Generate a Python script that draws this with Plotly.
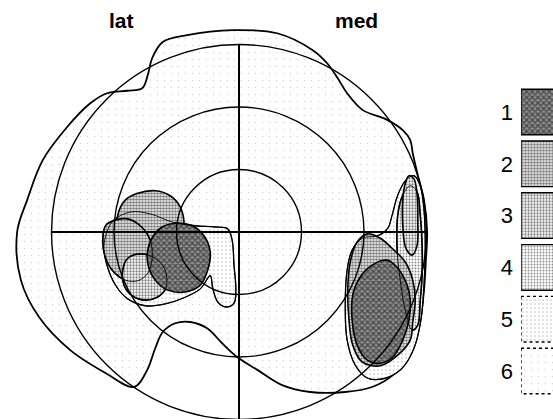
import plotly.graph_objects as go

# ---------------- data (visual-field degrees; +x = medial, +y = superior) ----------------
ring_ecc = [10, 20, 30]            # graticule eccentricities
levels = ["1", "2", "3", "4", "5", "6"]
side_labels = ["lat", "med"]

# level-6 (outermost) isopter
iso6_x = [-35.5, -33.9, -31.4, -27.5, -23.8, -21.1, -17.9, -15.5, -14.6, -13.9, -12.2, -8.3, -1.0, 6.1,
          11.8, 14.1, 15.8, 17.3, 19.8, 23.4, 26.2, 27.4, 27.8, 28.6, 29.6, 30.1, 29.9, 29.6, 28.8, 27.4,
          24.6, 21.3, 17.0, 11.4, 6.9, 3.0, -0.3, -2.7, -5.1, -7.8, -10.2, -12.2, -13.4, -14.7, -16.8,
          -21.3, -27.0, -32.0, -34.9, -35.5]
iso6_y = [0.0, 5.1, 11.5, 16.8, 20.6, 22.2, 22.6, 23.0, 25.1, 27.8, 30.4, 31.5, 32.3, 31.8,
          29.1, 27.0, 24.6, 22.2, 19.5, 18.1, 16.3, 14.7, 12.6, 9.1, 5.1, 0.0, -4.5, -9.3, -15.2, -19.2,
          -22.9, -24.8, -25.6, -25.6, -24.5, -22.1, -20.0, -17.8, -15.4, -14.4, -14.6, -16.0, -18.6, -22.1, -24.8,
          -22.6, -18.9, -13.6, -7.7, 0.0]

# lateral cluster
lat5_x = [-20.3, -17.4, -14.2, -10.7, -7.0, -3.8, -1.8, -1.1, -0.8, -0.5, -0.8, -2.1, -3.4, -4.2, -4.6,
          -6.2, -9.0, -11.8, -15.0, -17.8, -19.7, -21.1, -21.6, -20.3]
lat5_y = [1.6, 3.2, 2.9, 1.6, 1.0, 0.8, 0.5, -1.3, -5.3, -9.3, -11.4, -12.0, -11.2, -9.0, -7.0,
          -9.1, -10.6, -11.5, -11.8, -10.7, -8.6, -5.4, -2.1, 1.6]
lat2a_x = [-19.4, -18.2, -16.2, -13.4, -11.0, -9.4, -8.8, -9.1, -10.2, -12.6, -15.8, -18.2, -19.4, -19.4]
lat2a_y = [2.7, 5.1, 6.2, 6.6, 5.8, 4.0, 1.6, -1.0, -2.9, -4.2, -4.2, -2.9, -0.5, 2.7]
lat2b_x = [-21.8, -21.3, -19.8, -17.8, -15.8, -14.2, -13.9, -14.6, -16.2, -18.2, -20.3, -21.4, -21.8]
lat2b_y = [-1.3, 1.1, 1.9, 2.1, 1.0, -1.3, -4.2, -6.6, -7.8, -7.7, -6.1, -4.0, -1.3]
lat3_x = [-18.6, -17.8, -15.8, -13.4, -11.8, -11.7, -13.0, -15.0, -17.1, -18.4, -18.6]
lat3_y = [-6.1, -4.2, -3.5, -4.2, -6.1, -9.0, -10.4, -10.9, -10.2, -8.5, -6.1]
lat1_x = [-12.6, -10.2, -7.5, -5.6, -4.6, -5.0, -6.2, -8.6, -11.4, -13.4, -14.6, -14.4, -12.6]
lat1_y = [0.6, 1.4, 1.0, -0.6, -3.2, -6.1, -8.5, -9.6, -9.3, -7.7, -5.0, -2.1, 0.6]

# medial cluster
med5_x = [24.5, 25.4, 26.7, 28.0, 29.0, 29.6, 29.8, 29.6, 29.1, 28.0, 26.1, 23.4, 20.6, 18.6, 17.3,
          17.0, 17.3, 18.1, 19.7, 22.2, 23.8, 24.5]
med5_y = [2.7, 5.9, 8.3, 9.0, 7.4, 3.5, -2.1, -8.5, -14.1, -18.6, -21.8, -23.4, -23.4, -21.3, -17.3,
          -11.7, -6.1, -2.9, -1.0, -0.6, 0.6, 2.7]
med4_x = [25.4, 26.2, 27.4, 28.5, 29.0, 29.3, 29.3, 29.0, 28.6, 27.7, 26.6, 25.8, 25.3, 25.4]
med4_y = [2.7, 5.9, 7.4, 6.4, 2.7, -2.1, -6.9, -10.9, -14.9, -15.7, -12.5, -7.7, -2.9, 2.7]
med3_x = [26.2, 26.6, 27.2, 28.0, 28.5, 28.6, 28.5, 27.7, 26.7, 26.2, 26.2]
med3_y = [5.1, 7.8, 9.0, 8.5, 5.9, 1.9, -2.1, -3.7, -2.6, 1.1, 5.1]
med2_x = [20.6, 22.6, 24.5, 26.6, 27.8, 28.2, 27.8, 27.4, 25.4, 22.6, 19.7, 18.2, 17.6, 17.4, 17.8, 18.9, 20.6]
med2_y = [-0.3, -1.0, -2.6, -4.8, -7.7, -10.9, -14.4, -17.3, -19.7, -21.4, -20.8, -18.1, -14.1, -9.3, -4.8, -1.6, -0.3]
med1_x = [23.7, 25.4, 26.9, 27.4, 27.2, 26.2, 24.6, 22.6, 20.5, 18.9, 18.1, 18.2, 19.4, 21.3, 23.7]
med1_y = [-4.5, -5.8, -8.5, -10.9, -14.1, -17.3, -20.0, -21.0, -20.5, -18.1, -14.1, -10.1, -7.2, -5.3, -4.5]

# ---------------- styling ----------------
W, H = 553, 419
PX = 6.25                 # pixels per degree
CX, CY = 239, 232         # fixation point in pixels
x_rng = [-CX / PX, (W - CX) / PX]
y_rng = [-(H - CY) / PX, CY / PX]

pat = {
    "1": dict(shape="x", size=4, solidity=0.55, fgcolor="#000000", bgcolor="#8f8f8f"),
    "2": dict(shape=".", size=3, solidity=0.65, fgcolor="#000000", bgcolor="#ffffff"),
    "3": dict(shape=".", size=3, solidity=0.45, fgcolor="#000000", bgcolor="#ffffff"),
    "4": dict(shape=".", size=3, solidity=0.32, fgcolor="#111111", bgcolor="#ffffff"),
    "5": dict(shape=".", size=4, solidity=0.12, fgcolor="#666666", bgcolor="#ffffff"),
    "6": dict(shape=".", size=7, solidity=0.04, fgcolor="#aaaaaa", bgcolor="#ffffff"),
}

fig = go.Figure()


def blob(xs, ys, lvl, lw=1.6, dash="solid"):
    fig.add_trace(go.Scatter(
        x=xs, y=ys, mode="lines", fill="toself", line_shape="spline",
        line=dict(color="#000000", width=lw, dash=dash, smoothing=1.0),
        fillcolor="rgba(255,255,255,0)", fillpattern=pat[lvl],
        hoverinfo="skip", showlegend=False))


def outline(xs, ys, lw=1.0):
    fig.add_trace(go.Scatter(
        x=xs, y=ys, mode="lines", line_shape="spline",
        line=dict(color="#000000", width=lw, smoothing=1.0),
        hoverinfo="skip", showlegend=False))


blob(iso6_x, iso6_y, "6", lw=1.8)
blob(lat5_x, lat5_y, "5", lw=1.3)
blob(med5_x, med5_y, "5", lw=1.3)
blob(lat2a_x, lat2a_y, "2")
blob(lat2b_x, lat2b_y, "2")
blob(lat3_x, lat3_y, "3")
blob(lat1_x, lat1_y, "1")
blob(med4_x, med4_y, "4")
blob(med3_x, med3_y, "3")
blob(med2_x, med2_y, "2")
blob(med1_x, med1_y, "1")
for xs, ys in [(lat2b_x, lat2b_y), (lat3_x, lat3_y), (lat5_x, lat5_y), (med4_x, med4_y), (med5_x, med5_y)]:
    outline(xs, ys, lw=0.9)

# graticule (rings + meridians) drawn through the data axes
shapes = []
for r in ring_ecc:
    shapes.append(dict(type="circle", xref="x", yref="y", x0=-r, x1=r, y0=-r, y1=r,
                       line=dict(color="#000000", width=1.4), layer="above"))
shapes.append(dict(type="line", xref="x", yref="y", x0=-ring_ecc[-1], x1=ring_ecc[-1], y0=0, y1=0,
                   line=dict(color="#000000", width=2.0), layer="above"))
shapes.append(dict(type="line", xref="x", yref="y", x0=0, x1=0, y0=ring_ecc[-1], y1=y_rng[0] - 1,
                   line=dict(color="#000000", width=2.0), layer="above"))

# legend key boxes on their own axes
for i, lv in enumerate(levels):
    yc = i + 1
    fig.add_trace(go.Scatter(
        x=[0, 2, 2, 0, 0], y=[yc - 0.44, yc - 0.44, yc + 0.44, yc + 0.44, yc - 0.44],
        xaxis="x2", yaxis="y2", mode="lines", fill="toself",
        line=dict(color="#000000", width=1.4, dash="dot" if lv in ("5", "6") else "solid"),
        fillcolor="rgba(255,255,255,0)", fillpattern=pat[lv],
        hoverinfo="skip", showlegend=False))

lab_y = y_rng[1] - 20 / PX
annotations = [
    dict(x=-18.8, y=lab_y, xref="x", yref="y", text="<b>%s</b>" % side_labels[0], showarrow=False,
         font=dict(family="Liberation Sans, Arial", size=21, color="#000000")),
    dict(x=18.8, y=lab_y, xref="x", yref="y", text="<b>%s</b>" % side_labels[1], showarrow=False,
         font=dict(family="Liberation Sans, Arial", size=21, color="#000000")),
]

fig.update_layout(
    width=W, height=H, autosize=False,
    margin=dict(l=0, r=0, t=0, b=0),
    paper_bgcolor="#ffffff", plot_bgcolor="rgba(0,0,0,0)",
    shapes=shapes, annotations=annotations,
    xaxis=dict(range=x_rng, visible=False, fixedrange=True, domain=[0, 1]),
    yaxis=dict(range=y_rng, visible=False, fixedrange=True, domain=[0, 1]),
    xaxis2=dict(range=[0, 1], domain=[521 / W, 1], anchor="y2", visible=False, fixedrange=True),
    yaxis2=dict(range=[6.5, 0.5], domain=[(H - 396.9) / H, (H - 86.1) / H], anchor="x2",
                tickvals=list(range(1, 7)), ticktext=levels, showgrid=False, zeroline=False,
                showline=False, ticks="", ticklabelstandoff=7, fixedrange=True,
                tickfont=dict(family="Liberation Sans, Arial", size=22, color="#000000")),
)

fig.write_html("out.html", config={"displayModeBar": False, "staticPlot": True},
               post_script="document.body.style.margin='0px';document.body.style.overflow='hidden';")
